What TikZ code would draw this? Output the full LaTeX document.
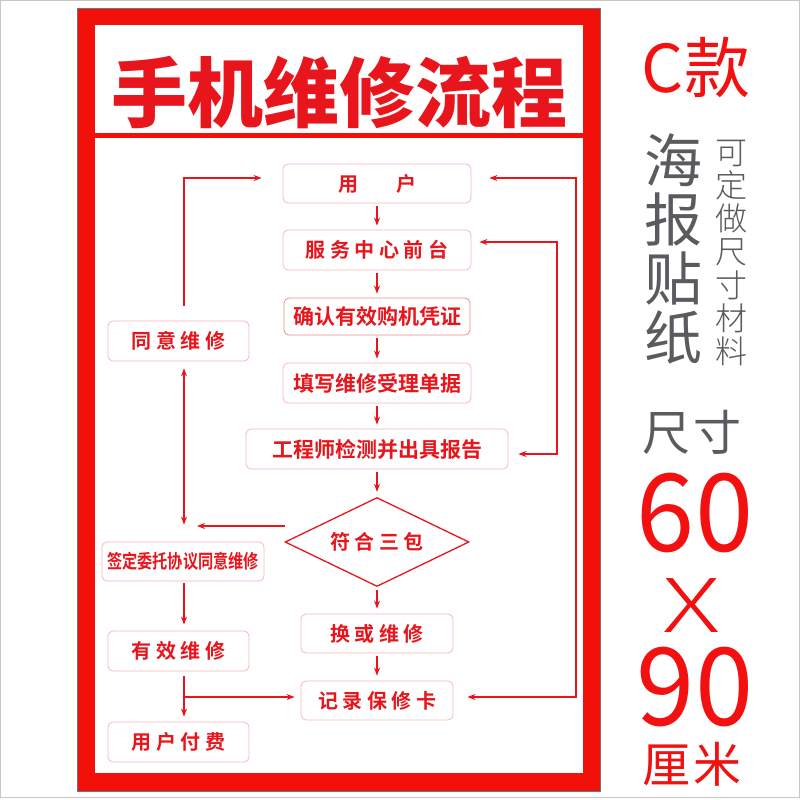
\documentclass[tikz,border=0pt]{standalone}
\usepackage{fontspec}
\usetikzlibrary{shapes.geometric,arrows.meta}
\newfontfamily\cjk{Noto Sans CJK SC}[BoldFont={Noto Sans CJK SC Bold}]
\newfontfamily\cjkblack{Noto Sans CJK SC Black}
\newfontfamily\cjklight{Noto Sans CJK SC Light}
\definecolor{fr}{HTML}{F2100A}
\definecolor{tr}{HTML}{E8161C}
\definecolor{bp}{HTML}{F9B8B8}
\definecolor{bq}{HTML}{F08C8C}
\definecolor{gy}{HTML}{5B5A5E}
\definecolor{rr}{HTML}{F21010}
\newcommand{\g}{\hspace{4.5pt}}
\begin{document}
\begin{tikzpicture}[x=1pt,y=-1pt,
  bx/.style={draw=bp, line width=0.8pt, rounded corners=5pt, fill=white, text=tr,
    font=\cjk\bfseries\fontsize{20}{20}\selectfont, inner sep=0pt, minimum height=39pt},
  arr/.style={draw=tr, line width=1.2pt, -{Stealth[length=8pt,width=6pt]}, shorten <=3pt, shorten >=4pt},
  arrb/.style={draw=tr, line width=1.2pt, {Stealth[length=8pt,width=6pt]}-{Stealth[length=8pt,width=6pt]}},
  side/.style={inner sep=0pt, align=center}]
\useasboundingbox (0,0) rectangle (800,800);
\fill[white] (0,0) rectangle (800,800);
\draw[black!22, line width=1pt] (0.5,0.8) rectangle (799.5,797.5);
% poster frame
\fill[fr] (77,8) rectangle (600,791);
\draw[black!55, line width=0.6pt] (77,8) rectangle (600,791);
\fill[white] (95,25) rectangle (583,133);
\fill[white] (95,138) rectangle (583,773);
% title
\node[inner sep=0pt, text=tr, font=\cjkblack\fontsize{76}{76}\selectfont] (title) at (339,92) {手机维修流程};
% main column
\node[bx, minimum width=188pt] (yh) at (377,183.5) {用\hspace{38pt}户};
\node[bx, minimum width=188pt, minimum height=40pt] (fw) at (377,250) {服\g 务\g 中\g 心\g 前\g 台};
\node[bx, draw=bq, minimum width=186pt, minimum height=37pt, font=\cjk\bfseries\fontsize{21}{21}\selectfont] (qr) at (377,316.5) {确认有效购机凭证};
\node[bx, minimum width=188pt, minimum height=40pt, font=\cjk\bfseries\fontsize{21}{21}\selectfont] (tx) at (377,383) {填写维修受理单据};
\node[bx, minimum width=262pt, minimum height=40pt, font=\cjk\bfseries\fontsize{21}{21}\selectfont] (gc) at (377,449) {工程师检测并出具报告};
\node[diamond, draw=tr, line width=1.3pt, fill=white, aspect=2.07, minimum width=184pt, minimum height=89pt, inner sep=0pt, text=tr, font=\cjk\bfseries\fontsize{20}{20}\selectfont] (dm) at (377,542) {符\g 合\g 三\g 包};
\node[bx, minimum width=152pt] (hh) at (377,633.5) {换\g 或\g 维\g 修};
\node[bx, minimum width=152pt] (jl) at (377,700.5) {记\g 录\g 保\g 修\g 卡};
% left column
\node[bx, minimum width=141pt, minimum height=40pt] (ty) at (178.5,341) {同\g 意\g 维\g 修};
\node[bx, minimum width=162pt, font=\cjk\bfseries\fontsize{19}{19}\selectfont] (qd) at (183,561.5) {\scalebox{0.8}[1]{签定委托协议同意维修}};
\node[bx, minimum width=141pt, minimum height=40pt] (yx) at (178.5,651) {有\g 效\g 维\g 修};
\node[bx, minimum width=141pt, minimum height=40pt] (fy) at (178.5,742) {用\g 户\g 付\g 费};
% coordinates
\coordinate (l1) at (184,178);
\coordinate (r1) at (576,178);
\coordinate (r2) at (576,697);
\coordinate (s1) at (557,242);
\coordinate (s2) at (557,454);
\coordinate (d0) at (285,526);
\coordinate (b0) at (184,697);
% main arrows
\draw[arr] (yh.south) -- (fw.north);
\draw[arr] (fw.south) -- (qr.north);
\draw[arr] (qr.south) -- (tx.north);
\draw[arr] (tx.south) -- (gc.north);
\draw[arr, shorten >=5pt] (gc.south) -- (dm.north);
\draw[arr, shorten >=5pt] (dm.south) -- (hh.north);
\draw[arr, shorten >=5pt] (hh.south) -- (jl.north);
% loops
\draw[arr, shorten <=15pt, shorten >=21pt] (ty.north -| l1) -- (l1) -- (yh.west |- l1);
\draw[arrb, shorten <=18pt, shorten >=14pt] (yh.east |- r1) -- (r1) -- (r2) -- (jl.east |- r2);
\draw[arrb, shorten <=8pt, shorten >=10pt] (fw.east |- s1) -- (s1) -- (s2) -- (gc.east |- s2);
\draw[arrb, shorten <=7pt, shorten >=17pt] (ty.south -| l1) -- (qd.north -| l1);
\draw[arr, shorten <=0pt, shorten >=13pt] (d0) -- (d0 -| l1);
\draw[arr, shorten <=2pt, shorten >=6pt] (qd.south -| l1) -- (yx.north -| l1);
\draw[arr, shorten <=5pt, shorten >=5pt] (yx.south -| l1) -- (fy.north -| l1);
\draw[arr, shorten <=0pt, shorten >=6pt] (b0) -- (jl.west |- b0);
% right side texts
\node[side, text=rr, font=\cjk\fontsize{66}{66}\selectfont] (ck) at (696,67) {C款};
\node[side, text=gy, font=\cjk\fontsize{58}{59}\selectfont] (hb) at (673,249) {海\\报\\贴\\纸};
\node[side, text=gy, font=\cjklight\fontsize{32}{33.3}\selectfont] (kd) at (731,253) {可\\定\\做\\尺\\寸\\材\\料};
\node[side, text=gy, font=\cjk\fontsize{48}{48}\selectfont] (cc) at (692,432) {尺\hspace{3pt}寸};
\node[side, text=rr, text height=79pt, text depth=0pt, font=\cjk\fontsize{108}{108}\selectfont] (n60) at (695,512) {\scalebox{0.97}[1]{60}};
\node[side, text=rr, text height=54pt, text depth=0pt, font=\cjklight\fontsize{74}{74}\selectfont] (nx) at (692,605) {\scalebox{1.45}[1]{X}};
\node[side, text=rr, text height=79pt, text depth=0pt, font=\cjk\fontsize{108}{108}\selectfont] (n90) at (695,686) {\scalebox{0.97}[1]{90}};
\node[side, text=rr, font=\cjk\fontsize{48}{48}\selectfont] (lm) at (692,764) {厘\hspace{3pt}米};
\end{tikzpicture}
\end{document}
